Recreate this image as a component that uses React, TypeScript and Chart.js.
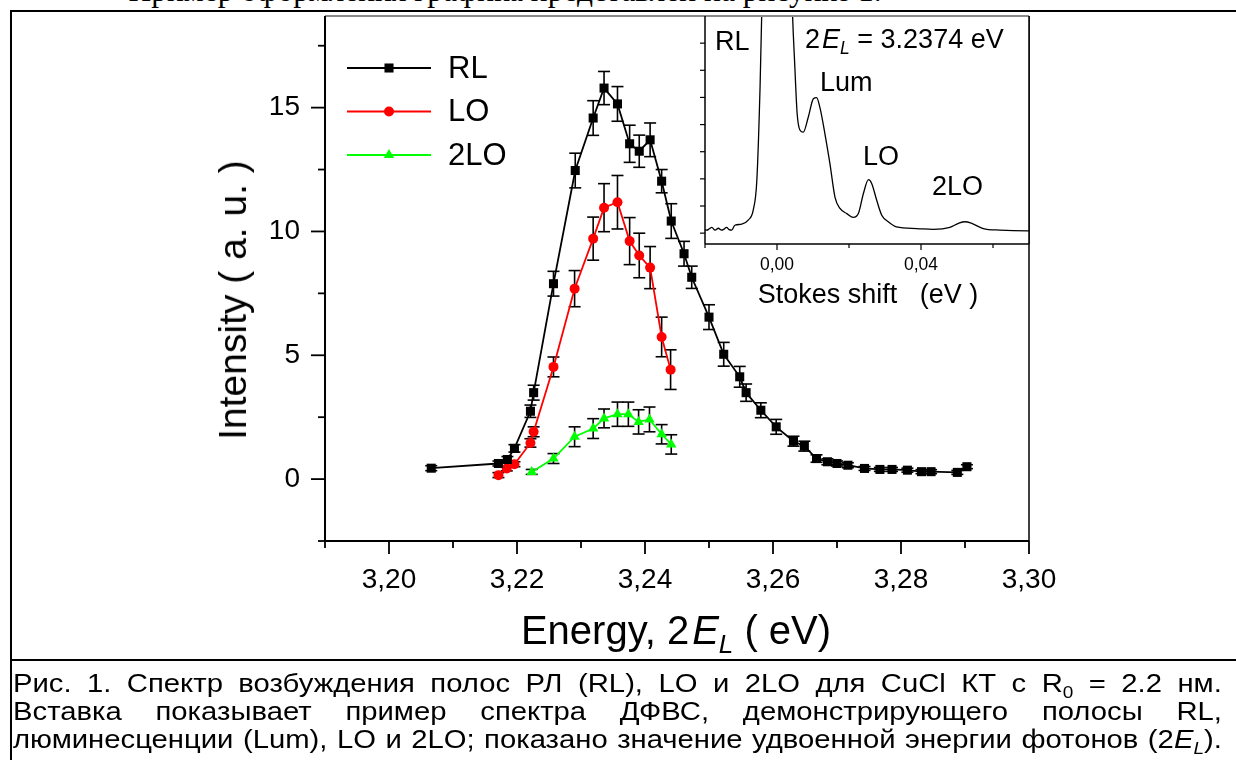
import React, { useEffect, useRef } from 'react';
import { Chart, registerables } from 'chart.js';

Chart.register(...registerables);

const SANS = '"Liberation Sans", Arial, Helvetica, sans-serif';
const SERIF = '"Liberation Serif", "Times New Roman", serif';

// ---------------- main chart data ----------------
const RL_ENERGY = [3.2066, 3.2171, 3.2185, 3.2196, 3.2221, 3.2226, 3.2257, 3.2291, 3.2319, 3.2336, 3.2357, 3.2376, 3.2391, 3.2408, 3.2426, 3.2441, 3.2461, 3.2473, 3.25, 3.2523, 3.2548, 3.2558, 3.2581, 3.2605, 3.2632, 3.2649, 3.2668, 3.2685, 3.27, 3.2717, 3.2743, 3.2767, 3.2786, 3.281, 3.2832, 3.2847, 3.2888, 3.2903];
const RL_INTENSITY = [0.44, 0.63, 0.79, 1.24, 2.74, 3.49, 7.89, 12.46, 14.58, 15.79, 15.15, 13.54, 13.24, 13.7, 12.03, 10.42, 9.1, 8.15, 6.54, 5.04, 4.13, 3.49, 2.78, 2.11, 1.53, 1.33, 0.83, 0.7, 0.63, 0.56, 0.43, 0.39, 0.39, 0.36, 0.3, 0.3, 0.27, 0.5];
const RL_ERROR = [0.1, 0.1, 0.12, 0.15, 0.25, 0.3, 0.5, 0.7, 0.7, 0.67, 0.7, 0.75, 0.65, 0.68, 0.47, 0.7, 0.5, 0.45, 0.5, 0.48, 0.42, 0.35, 0.3, 0.3, 0.2, 0.2, 0.15, 0.12, 0.1, 0.1, 0.08, 0.08, 0.08, 0.08, 0.08, 0.08, 0.08, 0.08];

const LO_ENERGY = [3.2171, 3.2184, 3.2196, 3.2221, 3.2226, 3.2257, 3.229, 3.2319, 3.2336, 3.2357, 3.2376, 3.2391, 3.2408, 3.2426, 3.244];
const LO_INTENSITY = [0.16, 0.43, 0.6, 1.46, 1.91, 4.53, 7.69, 9.71, 10.96, 11.18, 9.61, 9.03, 8.54, 5.74, 4.42];
const LO_ERROR = [0.1, 0.1, 0.1, 0.17, 0.2, 0.4, 0.73, 0.87, 0.97, 1.08, 0.95, 0.9, 0.85, 0.8, 0.8];

const TWO_LO_ENERGY = [3.2223, 3.2257, 3.229, 3.2319, 3.2336, 3.2357, 3.2374, 3.239, 3.2407, 3.2426, 3.2441];
const TWO_LO_INTENSITY = [0.29, 0.83, 1.71, 2.04, 2.45, 2.62, 2.62, 2.31, 2.41, 1.81, 1.4];
const TWO_LO_ERROR = [0.1, 0.2, 0.4, 0.4, 0.38, 0.49, 0.49, 0.49, 0.5, 0.39, 0.39];

const SERIES_LABELS = ['RL', 'LO', '2LO'];

const X_MIN = 3.19;
const X_MAX = 3.3;
const Y_MIN = -2.5;
const Y_MAX = 18.7;
const X_TICKS = [3.2, 3.22, 3.24, 3.26, 3.28, 3.3];
const X_MINOR_TICKS = [3.19, 3.21, 3.23, 3.25, 3.27, 3.29];
const Y_TICKS = [0, 5, 10, 15];
const Y_MINOR_TICKS = [-2.5, 2.5, 7.5, 12.5, 17.5];

// ---------------- inset data ----------------
const INSET_SHIFT = [-0.02, -0.0195, -0.0188, -0.0181, -0.0172, -0.0163, -0.0154, -0.0147, -0.014, -0.0133, -0.0126, -0.0117, -0.0098, -0.008, -0.0066, -0.0056, -0.0047, -0.004, -0.0025, 0, 0.0025, 0.004, 0.005, 0.0056, 0.0064, 0.0073, 0.0087, 0.0101, 0.011, 0.0119, 0.0133, 0.0147, 0.0161, 0.0175, 0.0194, 0.0212, 0.0226, 0.024, 0.0254, 0.0263, 0.0277, 0.0291, 0.0309, 0.0332, 0.0388, 0.0434, 0.048, 0.0504, 0.0522, 0.0541, 0.0573, 0.0619, 0.0697, 0.07];
const INSET_SIGNAL = [0.12, 0.11, 0.16, 0.21, 0.11, 0.18, 0.11, 0.15, 0.21, 0.13, 0.11, 0.29, 0.33, 0.48, 0.85, 1.95, 5.4, 9.5, 22, 30, 22, 9.5, 6.0, 4.4, 3.79, 3.72, 4.28, 4.95, 4.99, 4.64, 3.67, 2.56, 1.33, 0.91, 0.72, 0.58, 0.72, 1.46, 1.97, 1.83, 1.21, 0.66, 0.42, 0.23, 0.17, 0.14, 0.21, 0.36, 0.42, 0.36, 0.17, 0.11, 0.08, 0.08];
const INSET_X_MIN = -0.02;
const INSET_X_MAX = 0.07;
const INSET_Y_MIN = -0.4;
const INSET_Y_MAX = 8;
const INSET_X_TICKS = [0, 0.04];
const INSET_X_MINOR_TICKS = [-0.02, 0.02, 0.06];
const INSET_Y_TICKS = [0, 1, 2, 3, 4, 5, 6, 7];

function seg(ctx: any, x1: number, y1: number, x2: number, y2: number) {
  ctx.beginPath();
  ctx.moveTo(x1, y1);
  ctx.lineTo(x2, y2);
  ctx.stroke();
}

function drawMarker(ctx: any, style: string, x: number, y: number, r: number, color: string) {
  ctx.fillStyle = color;
  ctx.beginPath();
  if (style === 'rect') {
    const s = r * Math.SQRT1_2;
    ctx.rect(x - s, y - s, 2 * s, 2 * s);
  } else if (style === 'triangle') {
    let rad = 0;
    ctx.moveTo(x + Math.sin(rad) * r, y - Math.cos(rad) * r);
    rad += (2 * Math.PI) / 3;
    ctx.lineTo(x + Math.sin(rad) * r, y - Math.cos(rad) * r);
    rad += (2 * Math.PI) / 3;
    ctx.lineTo(x + Math.sin(rad) * r, y - Math.cos(rad) * r);
    ctx.closePath();
  } else {
    ctx.arc(x, y, r, 0, Math.PI * 2);
  }
  ctx.fill();
}

const errorBarPlugin = {
  id: 'errorBars',
  beforeDatasetsDraw(chart: any) {
    const { ctx, scales } = chart;
    const x = scales.x;
    const y = scales.y;
    ctx.save();
    ctx.strokeStyle = '#000';
    ctx.lineWidth = 1.6;
    chart.data.datasets.forEach((ds: any) => {
      const errs: number[] = ds.errors || [];
      ds.data.forEach((p: any, j: number) => {
        const e = errs[j] || 0;
        const px = x.getPixelForValue(p.x);
        const top = y.getPixelForValue(p.y + e);
        const bot = y.getPixelForValue(p.y - e);
        seg(ctx, px, top, px, bot);
        seg(ctx, px - 6, top, px + 6, top);
        seg(ctx, px - 6, bot, px + 6, bot);
      });
    });
    ctx.restore();
  },
};

const mainFramePlugin = {
  id: 'mainFrame',
  afterDraw(chart: any) {
    const { ctx, chartArea: a, scales } = chart;
    const x = scales.x;
    const y = scales.y;
    ctx.save();
    ctx.strokeStyle = '#8a8a8a';
    ctx.lineWidth = 2;
    seg(ctx, a.left, a.top, a.right, a.top);
    ctx.strokeStyle = '#000';
    ctx.lineWidth = 1.5;
    seg(ctx, a.right, a.top, a.right, a.bottom);
    ctx.lineWidth = 2;
    seg(ctx, a.left, a.top, a.left, a.bottom + 1);
    seg(ctx, a.left - 1, a.bottom, a.right, a.bottom);
    ctx.lineWidth = 1.8;
    X_TICKS.forEach((v) => {
      const p = x.getPixelForValue(v);
      seg(ctx, p, a.bottom, p, a.bottom + 13);
    });
    X_MINOR_TICKS.forEach((v) => {
      const p = x.getPixelForValue(v);
      seg(ctx, p, a.bottom, p, a.bottom + 7);
    });
    Y_TICKS.forEach((v) => {
      const p = y.getPixelForValue(v);
      seg(ctx, a.left - 14, p, a.left, p);
    });
    Y_MINOR_TICKS.forEach((v) => {
      const p = y.getPixelForValue(v);
      seg(ctx, a.left - 7, p, a.left, p);
    });

    // legend
    chart.data.datasets.forEach((ds: any, i: number) => {
      const yy = 68 + i * 43.5;
      ctx.strokeStyle = ds.borderColor;
      ctx.lineWidth = ds.borderWidth;
      seg(ctx, 347, yy, 431, yy);
      drawMarker(ctx, ds.pointStyle, 389, yy, ds.pointRadius, ds.backgroundColor);
      ctx.fillStyle = '#000';
      ctx.font = `31px ${SANS}`;
      ctx.textAlign = 'left';
      ctx.textBaseline = 'middle';
      ctx.fillText(ds.label, 448, yy + 1);
    });
    ctx.restore();
  },
};

const insetFramePlugin = {
  id: 'insetFrame',
  beforeDraw(chart: any) {
    const { ctx, chartArea: a } = chart;
    ctx.save();
    ctx.fillStyle = '#fff';
    ctx.fillRect(a.left, a.top, a.right - a.left, a.bottom - a.top);
    ctx.restore();
  },
  afterDraw(chart: any) {
    const { ctx, chartArea: a, scales } = chart;
    const x = scales.x;
    const y = scales.y;
    ctx.save();
    ctx.strokeStyle = '#8a8a8a';
    ctx.lineWidth = 2;
    seg(ctx, a.left, a.top, a.right, a.top);
    ctx.strokeStyle = '#000';
    ctx.lineWidth = 1.5;
    seg(ctx, a.right, a.top, a.right, a.bottom);
    seg(ctx, a.left, a.top, a.left, a.bottom);
    seg(ctx, a.left, a.bottom, a.right, a.bottom);
    ctx.lineWidth = 1.2;
    INSET_Y_TICKS.forEach((v) => {
      const p = y.getPixelForValue(v);
      seg(ctx, a.left - 5, p, a.left, p);
    });
    INSET_X_TICKS.forEach((v) => {
      const p = x.getPixelForValue(v);
      seg(ctx, p, a.bottom, p, a.bottom + 6);
    });
    INSET_X_MINOR_TICKS.forEach((v) => {
      const p = x.getPixelForValue(v);
      seg(ctx, p, a.bottom, p, a.bottom + 4);
    });
    ctx.restore();
  },
};

const commaFmt = (v: any) => Number(v).toFixed(2).replace('.', ',');

function T(props: { x: number; y: number; size: number; center?: boolean; children: any; style?: any }) {
  const { x, y, size, center, children, style } = props;
  return (
    <div
      style={{
        position: 'absolute',
        left: x,
        top: y - size * 0.6,
        height: size * 1.2,
        lineHeight: `${size * 1.2}px`,
        font: `${size}px ${SANS}`,
        color: '#000',
        whiteSpace: 'pre',
        transform: center ? 'translateX(-50%)' : undefined,
        ...style,
      }}
    >
      {children}
    </div>
  );
}

const sub = (txt: string, italic = false) => (
  <span style={{ fontSize: '0.65em', fontStyle: italic ? 'italic' : 'normal', position: 'relative', top: '0.35em' }}>{txt}</span>
);

const CAPTION_STRETCH = 1.17;

function CaptionLine(props: { top: number; words: any[] }) {
  return (
    <div
      style={{
        position: 'absolute',
        left: 13,
        width: 1209 / CAPTION_STRETCH,
        top: props.top,
        height: 28,
        display: 'flex',
        justifyContent: 'space-between',
        alignItems: 'baseline',
        font: `25px ${SANS}`,
        lineHeight: '28px',
        whiteSpace: 'nowrap',
        color: '#000',
        transform: `scaleX(${CAPTION_STRETCH})`,
        transformOrigin: 'left top',
      }}
    >
      {props.words.map((w, i) => (
        <span key={i}>{w}</span>
      ))}
    </div>
  );
}

export default function App() {
  const mainRef = useRef<HTMLCanvasElement | null>(null);
  const insetRef = useRef<HTMLCanvasElement | null>(null);

  useEffect(() => {
    const mk = (xs: number[], ys: number[]) => xs.map((x, i) => ({ x, y: ys[i] }));
    const main = new Chart(mainRef.current as any, {
      type: 'line',
      data: {
        datasets: [
          {
            label: SERIES_LABELS[0],
            data: mk(RL_ENERGY, RL_INTENSITY),
            errors: RL_ERROR,
            borderColor: '#000000',
            backgroundColor: '#000000',
            borderWidth: 1.8,
            pointStyle: 'rect',
            pointRadius: 6.4,
            pointBorderWidth: 0,
            tension: 0,
            order: 0,
          },
          {
            label: SERIES_LABELS[1],
            data: mk(LO_ENERGY, LO_INTENSITY),
            errors: LO_ERROR,
            borderColor: '#ff0000',
            backgroundColor: '#ff0000',
            borderWidth: 1.8,
            pointStyle: 'circle',
            pointRadius: 5,
            pointBorderWidth: 0,
            tension: 0,
            order: 1,
          },
          {
            label: SERIES_LABELS[2],
            data: mk(TWO_LO_ENERGY, TWO_LO_INTENSITY),
            errors: TWO_LO_ERROR,
            borderColor: '#00ff00',
            backgroundColor: '#00ff00',
            borderWidth: 1.8,
            pointStyle: 'triangle',
            pointRadius: 6,
            pointBorderWidth: 0,
            tension: 0,
            order: 2,
          },
        ] as any,
      },
      options: {
        animation: false,
        responsive: false,
        maintainAspectRatio: false,
        events: [],
        layout: { padding: { left: 0, top: 16, right: 207, bottom: 0 } },
        plugins: { legend: { display: false }, tooltip: { enabled: false } },
        scales: {
          x: {
            type: 'linear',
            min: X_MIN,
            max: X_MAX,
            grid: { display: false, drawTicks: true, tickLength: 22 },
            border: { display: false },
            ticks: {
              color: '#000',
              font: { family: SANS, size: 28 },
              padding: 0,
              maxRotation: 0,
              autoSkip: false,
              callback: commaFmt,
            },
            afterBuildTicks: (s: any) => {
              s.ticks = X_TICKS.map((value) => ({ value }));
            },
            afterFit: (s: any) => {
              s.height = 219;
              s.paddingLeft = 0;
              s.paddingRight = 0;
            },
          },
          y: {
            type: 'linear',
            min: Y_MIN,
            max: Y_MAX,
            grid: { display: false, drawTicks: true, tickLength: 25 },
            border: { display: false },
            ticks: {
              color: '#000',
              font: { family: SANS, size: 28 },
              padding: 0,
              autoSkip: false,
              callback: (v: any) => String(v),
            },
            afterBuildTicks: (s: any) => {
              s.ticks = Y_TICKS.map((value) => ({ value }));
            },
            afterFit: (s: any) => {
              s.width = 325;
              s.paddingTop = 0;
              s.paddingBottom = 0;
            },
          },
        },
      } as any,
      plugins: [errorBarPlugin, mainFramePlugin],
    });

    const inset = new Chart(insetRef.current as any, {
      type: 'line',
      data: {
        datasets: [
          {
            data: mk(INSET_SHIFT, INSET_SIGNAL),
            borderColor: '#000',
            borderWidth: 1.3,
            pointRadius: 0,
            cubicInterpolationMode: 'monotone',
            fill: false,
          },
        ] as any,
      },
      options: {
        animation: false,
        responsive: false,
        maintainAspectRatio: false,
        events: [],
        layout: { padding: { left: 0, top: 16, right: 31, bottom: 0 } },
        plugins: { legend: { display: false }, tooltip: { enabled: false } },
        scales: {
          x: {
            type: 'linear',
            min: INSET_X_MIN,
            max: INSET_X_MAX,
            grid: { display: false, drawTicks: false },
            border: { display: false },
            ticks: {
              color: '#000',
              font: { family: SANS, size: 17.5 },
              padding: 11,
              maxRotation: 0,
              autoSkip: false,
              callback: commaFmt,
            },
            afterBuildTicks: (s: any) => {
              s.ticks = INSET_X_TICKS.map((value) => ({ value }));
            },
            afterFit: (s: any) => {
              s.height = 86;
              s.paddingLeft = 0;
              s.paddingRight = 0;
            },
          },
          y: {
            type: 'linear',
            min: INSET_Y_MIN,
            max: INSET_Y_MAX,
            grid: { display: false, drawTicks: false },
            border: { display: false },
            ticks: { display: false },
            afterBuildTicks: (s: any) => {
              s.ticks = INSET_Y_TICKS.map((value) => ({ value }));
            },
            afterFit: (s: any) => {
              s.width = 65;
              s.paddingTop = 0;
              s.paddingBottom = 0;
            },
          },
        },
      } as any,
      plugins: [insetFramePlugin],
    });

    return () => {
      main.destroy();
      inset.destroy();
    };
  }, []);

  return (
    <div style={{ position: 'absolute', left: 0, top: 0, width: 1236, height: 760, overflow: 'hidden', background: '#fff' }}>
      <div
        style={{
          position: 'absolute',
          left: 505,
          top: -25,
          transform: 'translateX(-50%)',
          font: `31.5px ${SERIF}`,
          lineHeight: '31.5px',
          whiteSpace: 'nowrap',
          color: '#000',
        }}
      >
        Пример оформления графика представлен на рисунке 1.
      </div>
      <div style={{ position: 'absolute', left: 10, top: 10, width: 1400, height: 900, border: '2px solid #000' }} />
      <div style={{ position: 'absolute', left: 10, top: 659, width: 1400, height: 2, background: '#000' }} />

      <canvas ref={mainRef} width={1236} height={760} style={{ position: 'absolute', left: 0, top: 0, width: 1236, height: 760 }} />
      <canvas ref={insetRef} width={420} height={330} style={{ position: 'absolute', left: 640, top: 0, width: 420, height: 330 }} />

      {/* axis titles */}
      <div
        style={{
          position: 'absolute',
          left: 233,
          top: 300,
          transform: 'translate(-50%, -50%) rotate(-90deg)',
          font: `39px ${SANS}`,
          lineHeight: '46px',
          whiteSpace: 'pre',
          color: '#000',
        }}
      >
        Intensity ( a. u. )
      </div>
      <div
        style={{
          position: 'absolute',
          left: 676,
          top: 632,
          transform: 'translate(-50%, -50%)',
          font: `40px ${SANS}`,
          lineHeight: '46px',
          whiteSpace: 'pre',
          color: '#000',
        }}
      >
        Energy, 2<i style={{ marginLeft: 3 }}>E</i>
        {sub('L', true)} ( eV)
      </div>

      {/* inset annotations */}
      <T x={715} y={42} size={27}>RL</T>
      <T x={805} y={40} size={27}>
        2<i style={{ marginLeft: 2 }}>E</i>
        {sub('L', true)} = 3.2374 eV
      </T>
      <T x={820} y={83} size={27}>Lum</T>
      <T x={863} y={157} size={27}>LO</T>
      <T x={932} y={187} size={27}>2LO</T>
      <T x={868} y={295} size={27} center>
        Stokes shift   (eV )
      </T>

      {/* caption */}
      <CaptionLine
        top={669}
        words={['Рис.', '1.', 'Спектр', 'возбуждения', 'полос', 'РЛ', '(RL),', 'LO', 'и', '2LO', 'для', 'CuCl', 'КТ', 'с', <>R{sub('0')}</>, '=', '2.2', 'нм.']}
      />
      <CaptionLine
        top={697}
        words={['Вставка', 'показывает', 'пример', 'спектра', 'ДФВС,', 'демонстрирующего', 'полосы', 'RL,']}
      />
      <CaptionLine
        top={725}
        words={['люминесценции', '(Lum),', 'LO', 'и', '2LO;', 'показано', 'значение', 'удвоенной', 'энергии', 'фотонов', <>(2<i>E</i>{sub('L', true)}).</>]}
      />
    </div>
  );
}
